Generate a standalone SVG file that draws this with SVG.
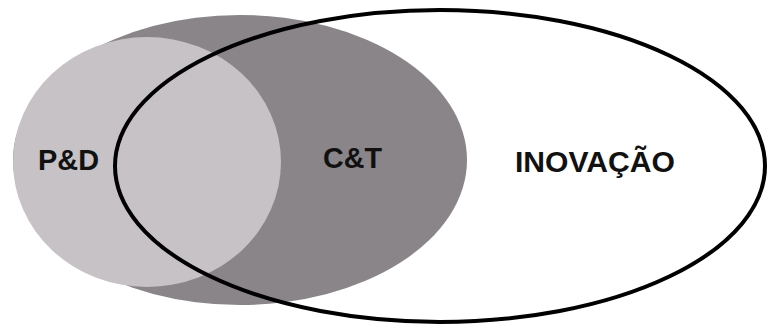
<svg xmlns="http://www.w3.org/2000/svg" width="767" height="327" viewBox="0 0 767 327">
<style>
.lbl{font-family:"Liberation Sans",Arial,sans-serif;font-weight:bold;font-size:29px;fill:#111}
</style>
<rect width="767" height="327" fill="#fff"/>
<g id="ct"><ellipse cx="240" cy="160" rx="227" ry="145" fill="#898589"/></g>
<g id="pd"><ellipse cx="147" cy="162" rx="134" ry="125" fill="#c6c2c6"/></g>
<g id="inovacao"><ellipse cx="440" cy="166" rx="325" ry="156" fill="none" stroke="#000" stroke-width="4"/></g>
<g id="labels">
<text class="lbl" x="38" y="170" textLength="61" lengthAdjust="spacingAndGlyphs">P&amp;D</text>
<text class="lbl" x="323" y="168" textLength="59" lengthAdjust="spacingAndGlyphs">C&amp;T</text>
<text class="lbl" x="515" y="172" textLength="160" lengthAdjust="spacingAndGlyphs">INOVAÇÃO</text>
</g>
<g id="connectors"/>
</svg>
